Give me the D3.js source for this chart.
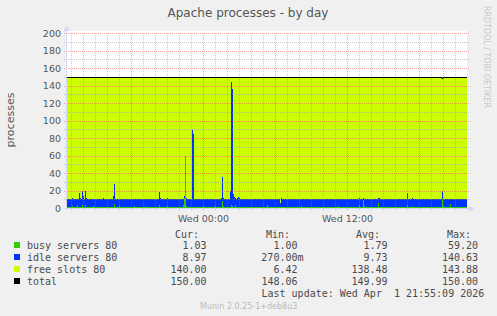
<!DOCTYPE html>
<html><head><meta charset="utf-8">
<script src="https://cdn.jsdelivr.net/npm/d3@7"></script>
<style>
html,body{margin:0;padding:0;background:#F0F0F0;}
svg{display:block;}
text{font-family:"DejaVu Sans",sans-serif;}
.mono{font-family:"DejaVu Sans Mono",monospace;font-size:10px;fill:#4a4a4a;}
</style></head><body>
<svg id="chart" width="497" height="316"></svg>
<script>
// ---- data (5-minute samples, oldest first) ----
const busy = [
1.2,1.0,1.5,1.0,1.0,2.0,1.0,1.0,1.0,1.3,4.0,1.0,1.5,1.0,1.0,3.0,1.0,1.2,3.0,1.0,
1,1,1.5,1,1,1,2,1,1,1,1,1.2,1,1,1,1,1.5,1,1,1,
1,1,1.2,1,1,1,1.5,5,1.2,1,1,1,2,1,1,1,1,1.5,1,1,
1,1,1,1.2,1,1,1,2,1,1,1,1,1,1.5,1,1,1,1,2,1,
1,1,1,1,1.5,1,1,1,1,1.2,1,1,3,1,1,1,1,1,1.5,1,
2,1,1,1,1,1,1.2,1,1,1,1,1,1.5,1,1,1,3,12,59.2,2,
1.5,1,1,1,1,1.5,1,1,1,1,1,1,1.2,1,1,1,2,1,1,1,
1,1,1.5,1,1,1,1,1,2,1,1,1,1,1,1,8,2,1,1,1.5,
1,1,1,1.5,2.95,2,1.5,1,4,1,1,1.5,1,1,1,1,1,1.2,1,1,
1,1,1,1,1,1.2,1,1,1,1,1,1.5,1,1,1,1,1,1,1,1,
4,1,1,1,1,1,1,1.2,1,1,1,1,1,1,1,1,1,1,1,1.5,
1,1,1,1,1,1.5,1,1,1,1,1,1,1,1,2,1,1,1,1,1,
1,1.2,1,1,1,1,1,1,1,1.5,1,1,1,1,1,1,1,1.2,1,1,
1,1,1.5,1,1,1,1,1,1,1,1,2,1,1,1,1,1,1,1,1,
1,1,1,1.5,1,1,1,1,1,1,1,1,3,1,1,1,9,2,1,1,
1,1,1,1,1.5,1,1,1,1,1,1,6,1.5,1,1,1,1,1,1,1,
1,1,1,1.2,1,1,1,1,1,1,1.5,1,1,1,1,1,1,1,1,1.5,
3,1,1,1,1,2,1,1,1,1,1,1,1.5,1,1,1,1,1,1,1,
1,1,1.2,1,1,1,1,1,1,1,1,1,1,1,1,10,2,1,1,1,
1,1,1.5,5,1,1,1,1.2,1,1,1,1,1,1,1,1,1,1,1,1.03];
const idle = [
8.8,9,8.5,9,9,9,9,9,9,8.7,6,9,15.5,11,9,17,13,8.8,16,11,
9,9,8.5,9,9,9,8,9,9,9,9,8.8,9,9,9,9,9.5,9,9,9,
9,9,8.8,9,9,9,12.5,23,8.8,9,9,9,8,9,9,9,9,8.5,9,9,
9,9,9,8.8,9,9,9,8,9,9,9,9,9,8.5,9,9,9,9,8,9,
9,9,9,9,8.5,9,9,9,9,8.8,9,9,15,11,9,9,9,9,8.5,9,
10,9,9,9,9,9,8.8,9,9,9,9,9,8.5,9,9,9,7,2,0.27,9,
8.5,9,9,9,9,88,84,9,9,9,9,9,8.8,9,9,9,8,9,9,9,
9,9,8.5,9,9,9,9,9,8,9,9,9,9,9,11,28,9,9,9,8.5,
9,9,9,18.5,140.63,134,14,11.5,8,9,11,11.5,11,9,9,9,9,8.8,9,9,
9,9,9,9,9,8.8,9,9,9,9,9,8.5,9,9,9,9,9,9,9,9,
6,9,9,9,9,9,9,8.8,9,9,9,9,9,5.12,11,9,9,9,9,8.5,
9,9,9,9,9,8.5,9,9,9,9,9,9,9,9,8,9,9,9,9,9,
9,8.8,9,9,9,9,9,9,9,8.5,9,9,9,9,9,9,9,8.8,9,9,
9,9,8.5,9,9,9,9,9,9,9,9,8,9,9,9,9,9,9,9,9,
9,9,9,8.5,9,9,9,9,9,9,9,9,9,9,9,9,3,8,9,9,
9,9,9,9,8.5,9,9,9,9,9,9,6,9.5,9,9,9,9,9,9,9,
9,9,9,8.8,9,9,9,9,9,9,8.5,9,9,9,9,9,9,9,9,8.5,
14.5,9,9,9,9,10,9,9,9,9,9,9,8.5,9,9,9,9,9,9,9,
9,9,8.8,9,9,9,9,9,9,9,9,9,9,9,9,9.4,8,9,9,9,
9,9,8.5,5,9,9,9,8.8,9,9,9,9,9,9,9,9,9,9,9,8.97];
const total = [
150,150,150,150,150,150,150,150,150,150,150,150,150,150,150,150,150,150,150,150,
150,150,150,150,150,150,150,150,150,150,150,150,150,150,150,150,150,150,150,150,
150,150,150,150,150,150,150,150,150,150,150,150,150,150,150,150,150,150,150,150,
150,150,150,150,150,150,150,150,150,150,150,150,150,150,150,150,150,150,150,150,
150,150,150,150,150,150,150,150,150,150,150,150,150,150,150,150,150,150,150,150,
150,150,150,150,150,150,150,150,150,150,150,150,150,150,150,150,150,150,150,150,
150,150,150,150,150,150,150,150,150,150,150,150,150,150,150,150,150,150,150,150,
150,150,150,150,150,150,150,150,150,150,150,150,150,150,150,150,150,150,150,150,
150,150,150,150,150,150,150,150,150,150,150,150,150,150,150,150,150,150,150,150,
150,150,150,150,150,150,150,150,150,150,150,150,150,150,150,150,150,150,150,150,
150,150,150,150,150,150,150,150,150,150,150,150,150,150,150,150,150,150,150,150,
150,150,150,150,150,150,150,150,150,150,150,150,150,150,150,150,150,150,150,150,
150,150,150,150,150,150,150,150,150,150,150,150,150,150,150,150,150,150,150,150,
150,150,150,150,150,150,150,150,150,150,150,150,150,150,150,150,150,150,150,150,
150,150,150,150,150,150,150,150,150,150,150,150,150,150,150,150,150,150,150,150,
150,150,150,150,150,150,150,150,150,150,150,150,150,150,150,150,150,150,150,150,
150,150,150,150,150,150,150,150,150,150,150,150,150,150,150,150,150,150,150,150,
150,150,150,150,150,150,150,150,150,150,150,150,150,150,150,150,150,150,150,150,
150,150,150,150,150,150,150,150,150,150,150,150,150,150,150,148.06,150,150,150,150,
150,150,150,150,150,150,150,150,150,150,150,150,150,150,150,150,150,150,150,150];
const yTicks = [0,20,40,60,80,100,120,140,160,180,200];
const seriesNames = ["busy servers 80","idle servers 80","free slots 80","total"];
const seriesColors = ["#33CC00","#0033FF","#CCFF00","#000000"];
const curVals = ["1.03","8.97","140.00","150.00"];
const minVals = ["1.00","270.00m","6.42","148.06"];
const avgVals = ["1.79","9.73","138.48","149.99"];
const maxVals = ["59.20","140.63","143.88","150.00"];
const titleText = "Apache processes - by day";
const yLabel = "processes";
const lastUpdate = "Last update: Wed Apr  1 21:55:09 2026";
const footer = "Munin 2.0.25-1+deb8u3";
const watermark = "RRDTOOL / TOBI OETIKER";

// ---- layout ----
const start = new Date(2026,2,31,12,40), end = new Date(2026,3,1,22,0);
const step = 5*60*1000;
const L=67, R=467, T=33, B=208;
const x = d3.scaleTime().domain([start,end]).range([L,R]);
const y = d3.scaleLinear().domain([0,200]).range([B,T]);
const svg = d3.select("#chart");

const rows = busy.map((b,i)=>({t:new Date(+start+i*step), busy:b, idle:idle[i], free:total[i]-b-idle[i], total:total[i]}));
const rowsExt = rows.concat([Object.assign({}, rows[rows.length-1], {t:end})]);

// canvas
svg.append("rect").attr("x",L).attr("y",T-2).attr("width",R-L).attr("height",B-T+2).attr("fill","#fff");

// stacked areas
const stack = d3.stack().keys(["busy","idle","free"])(rowsExt);
const area = d3.area().curve(d3.curveStepAfter).x(d=>x(d.data.t)).y0(d=>y(d[0])).y1(d=>y(d[1]));
svg.append("g").selectAll("path").data(stack).join("path")
  .attr("d",area).attr("fill",(d,i)=>seriesColors[i]).attr("shape-rendering","crispEdges");

// grid
const g = svg.append("g");
const hours = d3.timeHour.range(d3.timeHour.ceil(start), end);
hours.forEach(h=>{
  const major = h.getHours()%6===0;
  const xx = Math.round(x(h))+0.5;
  g.append("line").attr("x1",xx).attr("x2",xx).attr("y1",T).attr("y2",B+2)
    .attr("stroke",major?"rgba(222,79,79,0.55)":"rgba(143,143,143,0.5)").attr("stroke-dasharray","1,1");
});
d3.range(10,201,10).forEach(v=>{
  const major = v%20===0;
  const yy = Math.round(y(v))+0.5;
  g.append("line").attr("x1",L-3).attr("x2",R+2).attr("y1",yy).attr("y2",yy)
    .attr("stroke",major?"rgba(222,79,79,0.55)":"rgba(143,143,143,0.5)").attr("stroke-dasharray","1,1");
});

// total line
const line = d3.line().curve(d3.curveStepAfter).x(d=>x(d.t)).y(d=>Math.round(y(d.total))+0.5);
svg.append("path").datum(rowsExt).attr("d",line).attr("fill","none").attr("stroke","#000").attr("stroke-width",1);

// axes
const axisCol = "#CFD6F8";
svg.append("line").attr("x1",L-0.5).attr("x2",L-0.5).attr("y1",B+2).attr("y2",T-3).attr("stroke",axisCol);
svg.append("line").attr("x1",L-3).attr("x2",R+3).attr("y1",B+0.5).attr("y2",B+0.5).attr("stroke",axisCol);
svg.append("path").attr("d",`M${L-0.5},26 L${L-3.5},31 L${L+2.5},31 Z`).attr("fill",axisCol);
svg.append("path").attr("d",`M474,${B+0.5} L469,${B-2.5} L469,${B+3.5} Z`).attr("fill",axisCol);

const yAxis = svg.append("g").attr("transform",`translate(${L},0)`)
  .call(d3.axisLeft(y).tickValues(yTicks).tickSize(0).tickPadding(6));
yAxis.select(".domain").remove();
yAxis.selectAll("text").attr("fill","#555").style("font-size","9.5px").style("font-family","DejaVu Sans");

const xAxis = svg.append("g").attr("transform",`translate(0,${B})`)
  .call(d3.axisBottom(x).tickValues([new Date(2026,3,1,0,0), new Date(2026,3,1,12,0)])
    .tickFormat(d3.timeFormat("%a %H:%M")).tickSize(0).tickPadding(7));
xAxis.select(".domain").remove();
xAxis.selectAll("text").attr("fill","#555").style("font-size","9.5px").style("font-family","DejaVu Sans");

// title and labels
svg.append("text").attr("x",248).attr("y",17).attr("text-anchor","middle")
  .attr("fill","#555").style("font-size","12px").text(titleText);
svg.append("text").attr("transform","translate(13.5,120) rotate(-90)").attr("text-anchor","middle")
  .attr("fill","#555").style("font-size","11px").text(yLabel);
svg.append("text").attr("transform","translate(484,6) rotate(90)")
  .attr("fill","#c8c8c8").style("font-size","9px").attr("textLength",102).attr("lengthAdjust","spacingAndGlyphs").text(watermark);

// legend
const lg = svg.append("g");
[["Cur:",199],["Min:",290],["Avg:",380],["Max:",471]].forEach(([h,xr])=>{
  lg.append("text").attr("class","mono").attr("x",xr).attr("y",237.5).attr("text-anchor","end").text(h);
});
seriesNames.forEach((n,i)=>{
  const cy = 245 + i*12;
  lg.append("rect").attr("x",14).attr("y",cy-3).attr("width",6).attr("height",6).attr("fill",seriesColors[i]);
  lg.append("text").attr("class","mono").attr("x",27).attr("y",cy+3.5).text(n);
  lg.append("text").attr("class","mono").attr("x",206.5).attr("y",cy+3.5).attr("text-anchor","end").text(curVals[i]);
  const mv = minVals[i];
  lg.append("text").attr("class","mono").attr("x",mv.endsWith("m")?303.5:297.5).attr("y",cy+3.5).attr("text-anchor","end").text(mv);
  lg.append("text").attr("class","mono").attr("x",387.5).attr("y",cy+3.5).attr("text-anchor","end").text(avgVals[i]);
  lg.append("text").attr("class","mono").attr("x",478).attr("y",cy+3.5).attr("text-anchor","end").text(maxVals[i]);
});
lg.append("text").attr("class","mono").attr("x",261.5).attr("y",297).style("white-space","pre").text(lastUpdate);
svg.append("text").attr("x",200).attr("y",308.5).attr("fill","#bbb").style("font-size","8px").text(footer);
</script>
</body></html>
